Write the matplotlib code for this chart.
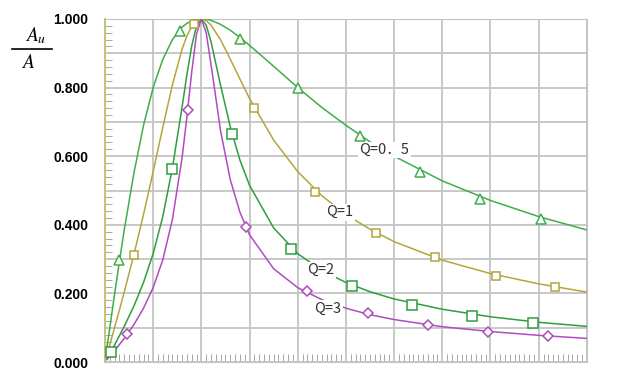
import matplotlib.pyplot as plt
from matplotlib.lines import Line2D

plt.rcParams['font.family'] = ['Noto Sans CJK SC', 'DejaVu Sans']

# frequency ratio samples
x = [0.02, 0.05, 0.1, 0.15, 0.2, 0.3, 0.4, 0.5, 0.6, 0.7, 0.8, 0.85, 0.9, 0.95, 1.0,
     1.05, 1.1, 1.2, 1.3, 1.4, 1.5, 1.75, 2.0, 2.25, 2.5, 2.75, 3.0, 3.5, 4.0, 4.5, 5.0]

q05 = [0.040, 0.100, 0.198, 0.293, 0.385, 0.550, 0.690, 0.800, 0.882, 0.940, 0.976, 0.987, 0.995, 0.999, 1.000,
       0.999, 0.996, 0.984, 0.967, 0.946, 0.923, 0.862, 0.800, 0.742, 0.690, 0.642, 0.600, 0.528, 0.471, 0.424, 0.385]
q1 = [0.020, 0.050, 0.101, 0.152, 0.204, 0.313, 0.430, 0.555, 0.684, 0.808, 0.912, 0.950, 0.978, 0.995, 1.000,
      0.995, 0.982, 0.939, 0.883, 0.825, 0.768, 0.647, 0.555, 0.485, 0.430, 0.387, 0.351, 0.297, 0.258, 0.228, 0.204]
q2 = [0.010, 0.025, 0.050, 0.077, 0.104, 0.163, 0.232, 0.316, 0.424, 0.566, 0.743, 0.837, 0.921, 0.980, 1.000,
      0.982, 0.934, 0.806, 0.686, 0.589, 0.515, 0.391, 0.316, 0.267, 0.232, 0.205, 0.184, 0.154, 0.132, 0.116, 0.104]
q3 = [0.007, 0.017, 0.034, 0.051, 0.069, 0.109, 0.157, 0.217, 0.298, 0.416, 0.595, 0.714, 0.845, 0.956, 1.000,
      0.960, 0.868, 0.673, 0.532, 0.437, 0.371, 0.272, 0.217, 0.182, 0.157, 0.138, 0.124, 0.103, 0.089, 0.078, 0.069]

# marker positions on each curve
q05_mx = [0.145, 0.78, 1.40, 2.00, 2.65, 3.27, 3.89, 4.52]
q05_my = [0.297, 0.966, 0.942, 0.800, 0.660, 0.555, 0.474, 0.418]
q1_mx = [0.30, 0.92, 1.55, 2.18, 2.81, 3.42, 4.06, 4.67]
q1_my = [0.313, 0.986, 0.740, 0.495, 0.376, 0.307, 0.250, 0.218]
q2_mx = [0.06, 0.70, 1.32, 1.93, 2.56, 3.19, 3.81, 4.44]
q2_my = [0.030, 0.562, 0.664, 0.329, 0.221, 0.165, 0.135, 0.114]
q3_mx = [0.23, 0.86, 1.46, 2.10, 2.73, 3.35, 3.97, 4.60]
q3_my = [0.081, 0.735, 0.395, 0.208, 0.142, 0.108, 0.088, 0.075]

fig = plt.figure(figsize=(6.4, 3.71), dpi=100)
ax = fig.add_axes([0.164, 0.024, 0.753, 0.925])

series = [
    (q05, q05_mx, q05_my, '#3fae4a', '^', 7),
    (q1, q1_mx, q1_my, '#b4a53c', 's', 5.5),
    (q2, q2_mx, q2_my, '#2e9e3e', 's', 6.5),
    (q3, q3_mx, q3_my, '#b04cc0', 'D', 5),
]
for ys, mx, my, c, m, ms in series:
    ax.plot(x, ys, color=c, lw=1.1, zorder=3)
    ax.plot(mx, my, ls='none', marker=m, ms=ms, mfc='white', mec=c, mew=1.1, zorder=4)

ax.set_xlim(0, 5)
ax.set_ylim(0, 1)
ax.set_xticks([i * 0.5 for i in range(11)])
ax.set_xticks([i * 0.05 for i in range(101)], minor=True)
ax.set_yticks([i * 0.1 for i in range(11)])
ax.set_yticks([i * 0.02 for i in range(51)], minor=True)
ax.set_yticklabels(['0.000', '', '0.200', '', '0.400', '', '0.600', '', '0.800', '', '1.000'],
                   family='Liberation Sans', weight='bold', fontsize=10)
ax.set_xticklabels([])
ax.grid(True, which='major', color='#c4c4c4', lw=1.3, zorder=0)
ax.tick_params(which='both', direction='in', color='#999999')
ax.tick_params(axis='x', which='major', length=0, bottom=True)
ax.tick_params(axis='x', which='minor', length=6)
ax.tick_params(axis='y', which='major', length=0, pad=12)
ax.tick_params(axis='y', which='minor', length=5)
for s in ['top', 'right', 'bottom']:
    ax.spines[s].set_color('#c4c4c4')
ax.spines['left'].set_color('#c8c27a')
ax.spines['left'].set_linewidth(1.5)

lab = dict(fontsize=10.5, color='#333333', ha='center', va='center', zorder=5,
           bbox=dict(facecolor='white', edgecolor='none', pad=1))
ax.text(2.9, 0.618, 'Q=0．5', **lab)
ax.text(2.44, 0.437, 'Q=1', **lab)
ax.text(2.24, 0.268, 'Q=2', **lab)
ax.text(2.31, 0.155, 'Q=3', **lab)

# A_u / A label
fig.text(36 / 640, 1 - 36 / 371, r'$A_u$', fontsize=14, ha='center', va='center',
         math_fontfamily='stix')
fig.add_artist(Line2D([12 / 640, 52 / 640], [1 - 49 / 371, 1 - 49 / 371],
                      color='black', lw=1.2))
fig.text(28 / 640, 1 - 63 / 371, r'$A$', fontsize=14, ha='center', va='center',
         math_fontfamily='stix')

fig.savefig('out.png', dpi=100)
